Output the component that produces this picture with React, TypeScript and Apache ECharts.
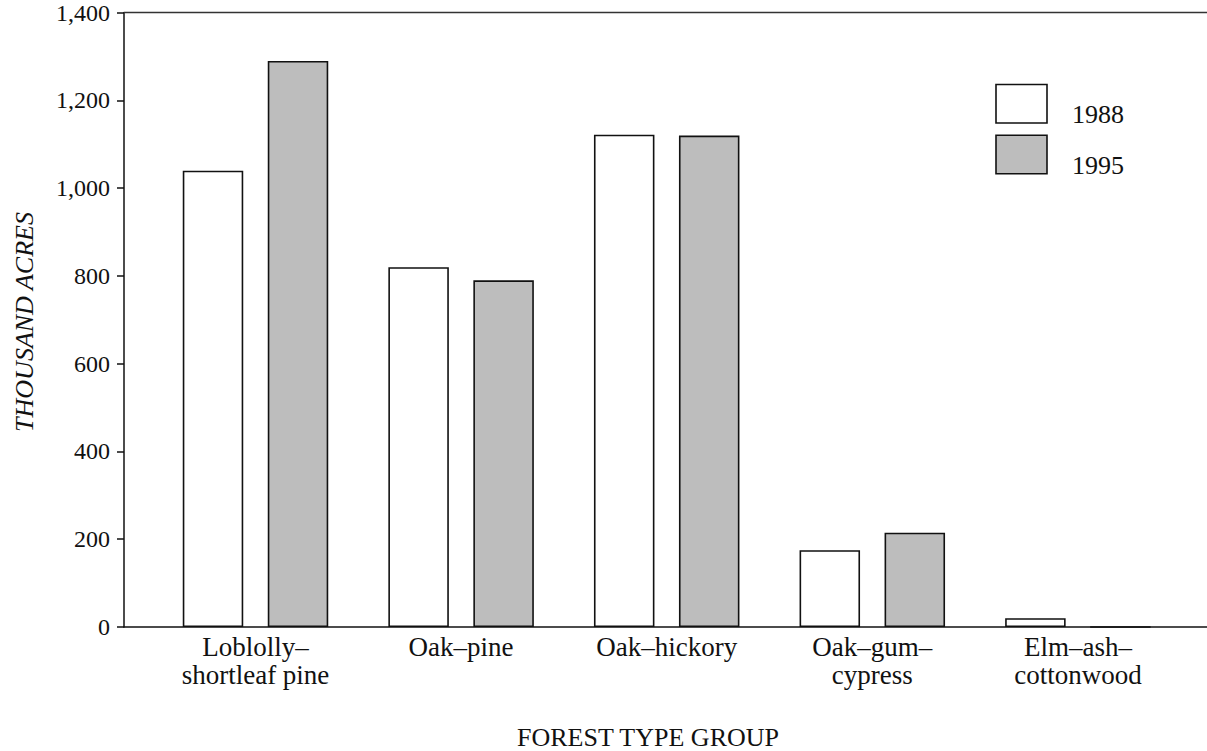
import React, { useEffect, useRef } from "react";
import * as echarts from "echarts";

const categories = [
  "Loblolly–\nshortleaf pine",
  "Oak–pine",
  "Oak–hickory",
  "Oak–gum–\ncypress",
  "Elm–ash–\ncottonwood",
];
const seriesNames = ["1988", "1995"];
const values1988 = [1040, 820, 1122, 175, 20];
const values1995 = [1290, 790, 1120, 215, 0];
const yTicks = [0, 200, 400, 600, 800, 1000, 1200, 1400];
const xTitle = "FOREST TYPE GROUP";
const yTitle = "THOUSAND ACRES";

const FONT = "'Liberation Serif', 'Times New Roman', serif";
const INK = "#111111";
const GRAY = "#bdbdbd";
const fills = ["#ffffff", GRAY];

export default function App() {
  const ref = useRef<HTMLDivElement>(null);

  useEffect(() => {
    if (!ref.current) return;
    const chart = echarts.init(ref.current, undefined, { renderer: "svg" });
    const yMin = yTicks[0];
    const yMax = yTicks[yTicks.length - 1];
    const yInterval = yTicks[1] - yTicks[0];

    const legendGraphics: any[] = [];
    seriesNames.forEach((name, i) => {
      const top = 84.5 + i * 50.7;
      legendGraphics.push({
        type: "rect",
        shape: { x: 996, y: top, width: 51, height: 38.5 },
        style: { fill: fills[i], stroke: INK, lineWidth: 1.6 },
      });
      legendGraphics.push({
        type: "text",
        x: 1072,
        y: top + 30,
        style: {
          text: name,
          fontFamily: FONT,
          fontSize: 26,
          fill: INK,
          align: "left",
          verticalAlign: "middle",
        },
      });
    });

    const option: any = {
      animation: false,
      backgroundColor: "#ffffff",
      grid: [
        { left: 124, right: 0, top: 12.7, bottom: 124, containLabel: false },
        { left: 152.7, right: 26.3, top: 12.7, bottom: 124, containLabel: false },
      ],
      xAxis: [
        {
          gridIndex: 0,
          type: "value",
          position: "bottom",
          min: 0,
          max: 1,
          axisLine: { show: true, onZero: false, lineStyle: { color: INK, width: 1.5 } },
          axisTick: { show: false },
          axisLabel: { show: false },
          splitLine: { show: false },
        },
        {
          gridIndex: 0,
          type: "value",
          position: "top",
          min: 0,
          max: 1,
          axisLine: { show: true, onZero: false, lineStyle: { color: "#333", width: 1.3 } },
          axisTick: { show: false },
          axisLabel: { show: false },
          splitLine: { show: false },
        },
        {
          gridIndex: 1,
          type: "category",
          data: categories,
          boundaryGap: true,
          axisLine: { show: false },
          axisTick: { show: false },
          splitLine: { show: false },
          axisLabel: {
            show: true,
            interval: 0,
            margin: 6,
            fontFamily: FONT,
            fontSize: 27,
            lineHeight: 28,
            color: INK,
            align: "center",
            verticalAlign: "top",
          },
        },
      ],
      yAxis: [
        {
          gridIndex: 0,
          type: "value",
          min: yMin,
          max: yMax,
          interval: yInterval,
          axisLine: { show: true, lineStyle: { color: INK, width: 1.5 } },
          axisTick: { show: true, inside: false, length: 7, lineStyle: { color: INK, width: 1.5 } },
          axisLabel: {
            show: true,
            margin: 14,
            fontFamily: FONT,
            fontSize: 24,
            color: INK,
            formatter: (v: number) => v.toLocaleString("en-US"),
          },
          splitLine: { show: false },
        },
        {
          gridIndex: 1,
          type: "value",
          min: yMin,
          max: yMax,
          show: false,
          splitLine: { show: false },
        },
      ],
      series: [
        {
          name: seriesNames[0],
          type: "bar",
          xAxisIndex: 2,
          yAxisIndex: 1,
          data: values1988,
          barWidth: 60.5,
          barGap: "40.5%",
          itemStyle: { color: fills[0], borderColor: INK, borderWidth: 1.6 },
        },
        {
          name: seriesNames[1],
          type: "bar",
          xAxisIndex: 2,
          yAxisIndex: 1,
          data: values1995,
          barWidth: 60.5,
          barGap: "40.5%",
          itemStyle: { color: fills[1], borderColor: INK, borderWidth: 1.6 },
        },
      ],
      graphic: [
        {
          type: "text",
          x: 648,
          y: 737.5,
          style: {
            text: xTitle,
            fontFamily: FONT,
            fontSize: 26,
            fill: INK,
            align: "center",
            verticalAlign: "middle",
          },
        },
        {
          type: "text",
          x: 24,
          y: 322,
          rotation: Math.PI / 2,
          style: {
            text: yTitle,
            fontFamily: FONT,
            fontSize: 26,
            fontStyle: "italic",
            fill: INK,
            align: "center",
            verticalAlign: "middle",
          },
        },
        ...legendGraphics,
      ],
    };

    chart.setOption(option);
    return () => chart.dispose();
  }, []);

  return (
    <div
      ref={ref}
      style={{ position: "fixed", left: 0, top: 0, width: 1207, height: 751, background: "#fff" }}
    />
  );
}
